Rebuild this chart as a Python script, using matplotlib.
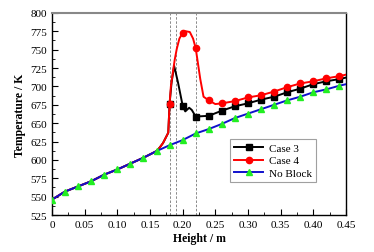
import numpy as np
import matplotlib
matplotlib.use('Agg')
import matplotlib.pyplot as plt
from matplotlib.ticker import MultipleLocator, FuncFormatter

plt.rcParams['font.family'] = ['Liberation Serif', 'DejaVu Serif']

# Case 4 (red circles)
h4 = [0, 0.02, 0.04, 0.06, 0.08, 0.10, 0.12, 0.14, 0.16, 0.165, 0.17, 0.174,
      0.178, 0.18, 0.182, 0.185, 0.188, 0.191, 0.195, 0.20, 0.205, 0.211, 0.216,
      0.22, 0.227, 0.232, 0.24, 0.25, 0.26, 0.28, 0.30, 0.32, 0.34, 0.36, 0.38,
      0.40, 0.42, 0.44, 0.45]
t4 = [546, 557, 564, 571, 580, 587, 595, 603, 612, 617, 623, 630,
      637, 676, 700, 719, 737, 751, 765, 773, 775, 774, 765,
      752, 710, 686, 681, 676, 677, 680, 685, 688, 693, 699, 704,
      707, 711, 714, 716]

# Case 3 (black squares)
h3 = [0, 0.02, 0.04, 0.06, 0.08, 0.10, 0.12, 0.14, 0.16, 0.165, 0.17, 0.174,
      0.178, 0.18, 0.183, 0.187, 0.193, 0.20, 0.204, 0.21, 0.214, 0.22, 0.24,
      0.26, 0.28, 0.30, 0.32, 0.34, 0.36, 0.38, 0.40, 0.42, 0.44, 0.45]
t3 = [546, 557, 564, 571, 580, 587, 595, 603, 612, 617, 623, 630,
      637, 676, 705, 728, 705, 674, 666, 671, 668, 659, 660,
      667, 673, 677, 682, 686, 692, 697, 703, 707, 710, 712]

# No Block (blue line, green triangles)
h0 = [0, 0.02, 0.04, 0.06, 0.08, 0.10, 0.12, 0.14, 0.16, 0.18, 0.20, 0.22,
      0.24, 0.26, 0.28, 0.30, 0.32, 0.34, 0.36, 0.38, 0.40, 0.42, 0.44, 0.45]
t0 = [546, 557, 564, 571, 580, 587, 595, 603, 612, 620, 627, 636,
      642, 649, 657, 663, 669, 675, 681, 686, 692, 696, 701, 703]

guides = [0.18, 0.19, 0.22]


def marks(h, start=0.0):
    h = np.asarray(h)
    on = np.isclose(h * 50, np.round(h * 50)) & (h >= start - 1e-9)
    return list(on)


fig = plt.figure(figsize=(3.74, 2.53), dpi=100)
ax = fig.add_axes([0.139, 0.146, 0.786, 0.799])

for g in guides:
    ax.axvline(g, color='#777777', ls=(0, (3, 2)), lw=0.6, zorder=1)

ax.plot(h3, t3, color='black', lw=1.4, marker='s', ms=4,
        markevery=marks(h3, 0.18), label='Case 3', zorder=3)
ax.plot(h4, t4, color='red', lw=1.4, marker='o', ms=4.5,
        markevery=marks(h4, 0.18), label='Case 4', zorder=4)
ax.plot(h0, t0, color='#1010cc', lw=1.4, marker='^', ms=5,
        markerfacecolor='#22ee22', markeredgecolor='#22ee22',
        markevery=marks(h0), label='No Block', zorder=5)

ax.set_xlim(0, 0.45)
ax.set_ylim(525, 800)
ax.xaxis.set_major_locator(MultipleLocator(0.05))
ax.xaxis.set_minor_locator(MultipleLocator(0.025))
ax.yaxis.set_major_locator(MultipleLocator(25))
ax.yaxis.set_minor_locator(MultipleLocator(12.5))
ax.xaxis.set_major_formatter(FuncFormatter(lambda v, p: '0' if abs(v) < 1e-9 else f'{v:.2f}'))
ax.tick_params(which='both', direction='in', labelsize=8, top=False, right=False)
ax.tick_params(which='major', length=4, width=0.8)
ax.tick_params(which='minor', length=2, width=0.6)
for s in ['left', 'bottom', 'right']:
    ax.spines[s].set_linewidth(1.0)
ax.spines['top'].set_color('#888888')
ax.spines['top'].set_linewidth(1.5)

ax.set_xlabel('Height / m', fontsize=8.5, fontweight='bold', labelpad=2)
ax.set_ylabel('Temperature / K', fontsize=8.5, fontweight='bold', labelpad=3)

leg = ax.legend(loc='lower right', bbox_to_anchor=(0.918, 0.134), fontsize=8,
                fancybox=False, edgecolor='#888888', handlelength=2.6,
                borderpad=0.4, labelspacing=0.25, handletextpad=0.5)
leg.get_frame().set_linewidth(0.8)

fig.savefig('out.png', dpi=100)
